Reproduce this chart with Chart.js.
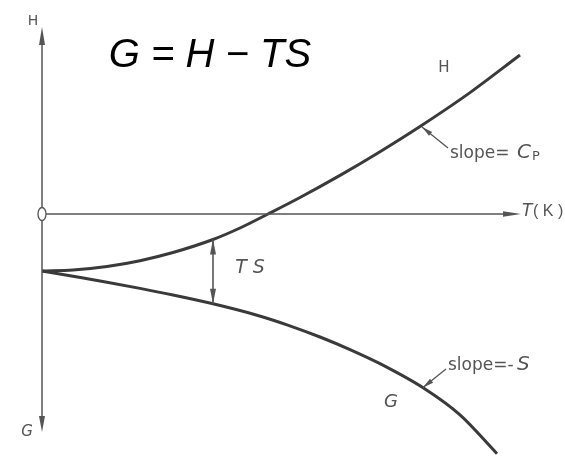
<!DOCTYPE html>
<html>
<head>
<meta charset="utf-8">
<script src="https://cdn.jsdelivr.net/npm/chart.js@4/dist/chart.umd.min.js"></script>
<style>
  html, body { margin: 0; padding: 0; background: #ffffff; }
  #wrap { width: 565px; height: 461px; }
</style>
</head>
<body>
<div id="wrap"><canvas id="c" width="565" height="461"></canvas></div>
<script>
// ---- Data (temperature T and energy, arbitrary units) ----
const hT = [0, 0.62, 1.30, 1.96, 2.62, 3.42, 3.96, 4.52, 5.16, 5.96, 6.76, 7.56, 8.56, 9.56];
const hE = [-2.85, -2.80, -2.625, -2.335, -1.925, -1.275, -0.70, 0.00, 0.825, 1.93, 3.115, 4.375, 6.07, 7.95];

const gT = [0, 0.62, 1.30, 1.96, 2.62, 3.42, 4.30, 4.90, 5.56, 6.16, 6.76, 7.66, 8.36, 9.10];
const gE = [-2.85, -3.115, -3.41, -3.72, -4.05, -4.49, -5.06, -5.54, -6.15, -6.78, -7.485, -8.75, -10.045, -11.985];

// axis extents (data units)
const axisTMax = 9.58;
const axisEMax = 9.35;
const axisEMin = -10.9;

// TS gap marker (between H and G at one temperature)
const tsT = 3.42;
const tsH = -1.275;
const tsG = -4.49;

const toPts = (xs, ys) => xs.map((x, i) => ({x: x, y: ys[i]}));

const curveColor = '#3a3a3a';
const axisColor = '#555555';
const textColor = '#555555';

function arrowHead(ctx, tx, ty, fx, fy, len, half, color) {
  const a = Math.atan2(ty - fy, tx - fx);
  ctx.save();
  ctx.translate(tx, ty);
  ctx.rotate(a);
  ctx.beginPath();
  ctx.moveTo(0, 0);
  ctx.lineTo(-len, -half);
  ctx.lineTo(-len, half);
  ctx.closePath();
  ctx.fillStyle = color;
  ctx.fill();
  ctx.restore();
}

const annotate = {
  id: 'annotate',
  afterDatasetsDraw(chart) {
    const ctx = chart.ctx;
    const xs = chart.scales.x, ys = chart.scales.y;
    const X = v => xs.getPixelForValue(v);
    const Y = v => ys.getPixelForValue(v);

    // axis arrowheads
    arrowHead(ctx, X(0), Y(axisEMax), X(0), Y(0), 18, 3, axisColor);
    arrowHead(ctx, X(0), Y(axisEMin), X(0), Y(0), 16, 3, axisColor);
    arrowHead(ctx, X(axisTMax), Y(0), X(0), Y(0), 18, 2.8, axisColor);

    // TS double arrow
    ctx.save();
    ctx.strokeStyle = axisColor;
    ctx.lineWidth = 1.6;
    ctx.beginPath();
    ctx.moveTo(X(tsT), Y(tsH));
    ctx.lineTo(X(tsT), Y(tsG));
    ctx.stroke();
    ctx.restore();
    arrowHead(ctx, X(tsT), Y(tsH), X(tsT), Y(tsG), 15, 3, axisColor);
    arrowHead(ctx, X(tsT), Y(tsG), X(tsT), Y(tsH), 15, 3, axisColor);

    // slope leaders
    const leader = (fT, fE, tT, tE) => {
      ctx.save();
      ctx.strokeStyle = axisColor;
      ctx.lineWidth = 1.3;
      ctx.beginPath();
      ctx.moveTo(X(fT), Y(fE));
      ctx.lineTo(X(tT), Y(tE));
      ctx.stroke();
      ctx.restore();
      arrowHead(ctx, X(tT), Y(tE), X(fT), Y(fE), 11, 2.5, axisColor);
    };
    leader(8.12, 3.30, 7.60, 4.35);
    leader(8.08, -7.75, 7.62, -8.68);

    // origin mark "0"
    ctx.save();
    ctx.fillStyle = '#ffffff';
    ctx.beginPath();
    ctx.ellipse(X(0), Y(0), 4, 6.5, 0, 0, Math.PI * 2);
    ctx.fill();
    ctx.strokeStyle = axisColor;
    ctx.lineWidth = 1.3;
    ctx.stroke();
    ctx.restore();

    const txt = (s, T, E, font, color, align, base) => {
      ctx.save();
      ctx.font = font;
      ctx.fillStyle = color;
      ctx.textAlign = align || 'center';
      ctx.textBaseline = base || 'middle';
      ctx.fillText(s, X(T), Y(E));
      ctx.restore();
    };

    // title
    txt('G = H \u2212 TS', 3.36, 7.35, 'italic 40px "Liberation Sans", Arial, sans-serif', '#000000', 'center', 'alphabetic');

    // axis labels
    txt('H', -0.18, 9.62, '14px "DejaVu Sans", sans-serif', textColor);
    txt('G', -0.30, -10.9, 'italic 15px "DejaVu Sans", sans-serif', textColor);
    txt('T', 9.60, 0.10, 'italic 17px "DejaVu Sans", sans-serif', textColor, 'left');
    txt('( K )', 9.82, 0.10, '16px "Liberation Sans", sans-serif', textColor, 'left');

    // curve labels
    txt('H', 8.04, 7.30, '15px "DejaVu Sans", sans-serif', textColor);
    txt('T S', 4.16, -2.70, 'italic 19px "DejaVu Sans", sans-serif', textColor);
    txt('G', 6.98, -9.40, 'italic 18px "DejaVu Sans", sans-serif', textColor);

    // slope labels
    txt('slope=', 8.16, 2.80, '17px "DejaVu Sans", sans-serif', textColor, 'left', 'alphabetic');
    txt('C', 9.50, 2.80, 'italic 20px "DejaVu Sans", sans-serif', textColor, 'left', 'alphabetic');
    txt('P', 9.80, 2.72, '13px "DejaVu Sans", sans-serif', textColor, 'left', 'alphabetic');
    txt('slope=-', 8.12, -7.82, '17px "DejaVu Sans", sans-serif', textColor, 'left', 'alphabetic');
    txt('S', 9.50, -7.82, 'italic 20px "DejaVu Sans", sans-serif', textColor, 'left', 'alphabetic');
  }
};

new Chart(document.getElementById('c'), {
  type: 'scatter',
  data: {
    datasets: [
      { data: [{x: 0, y: 0}, {x: axisTMax - 0.2, y: 0}], showLine: true, borderColor: axisColor, borderWidth: 1.5, pointRadius: 0 },
      { data: [{x: 0, y: axisEMax - 0.4}, {x: 0, y: axisEMin + 0.4}], showLine: true, borderColor: axisColor, borderWidth: 1.5, pointRadius: 0 },
      { data: toPts(hT, hE), showLine: true, borderColor: curveColor, borderWidth: 3, pointRadius: 0, cubicInterpolationMode: 'monotone' },
      { data: toPts(gT, gE), showLine: true, borderColor: curveColor, borderWidth: 3, pointRadius: 0, cubicInterpolationMode: 'monotone' }
    ]
  },
  options: {
    responsive: false,
    animation: false,
    layout: { padding: 0 },
    plugins: { legend: { display: false }, tooltip: { enabled: false } },
    scales: {
      x: { type: 'linear', display: false, min: -0.84, max: 10.46 },
      y: { type: 'linear', display: false, min: -12.35, max: 10.7 }
    }
  },
  plugins: [annotate]
});
</script>
</body>
</html>
